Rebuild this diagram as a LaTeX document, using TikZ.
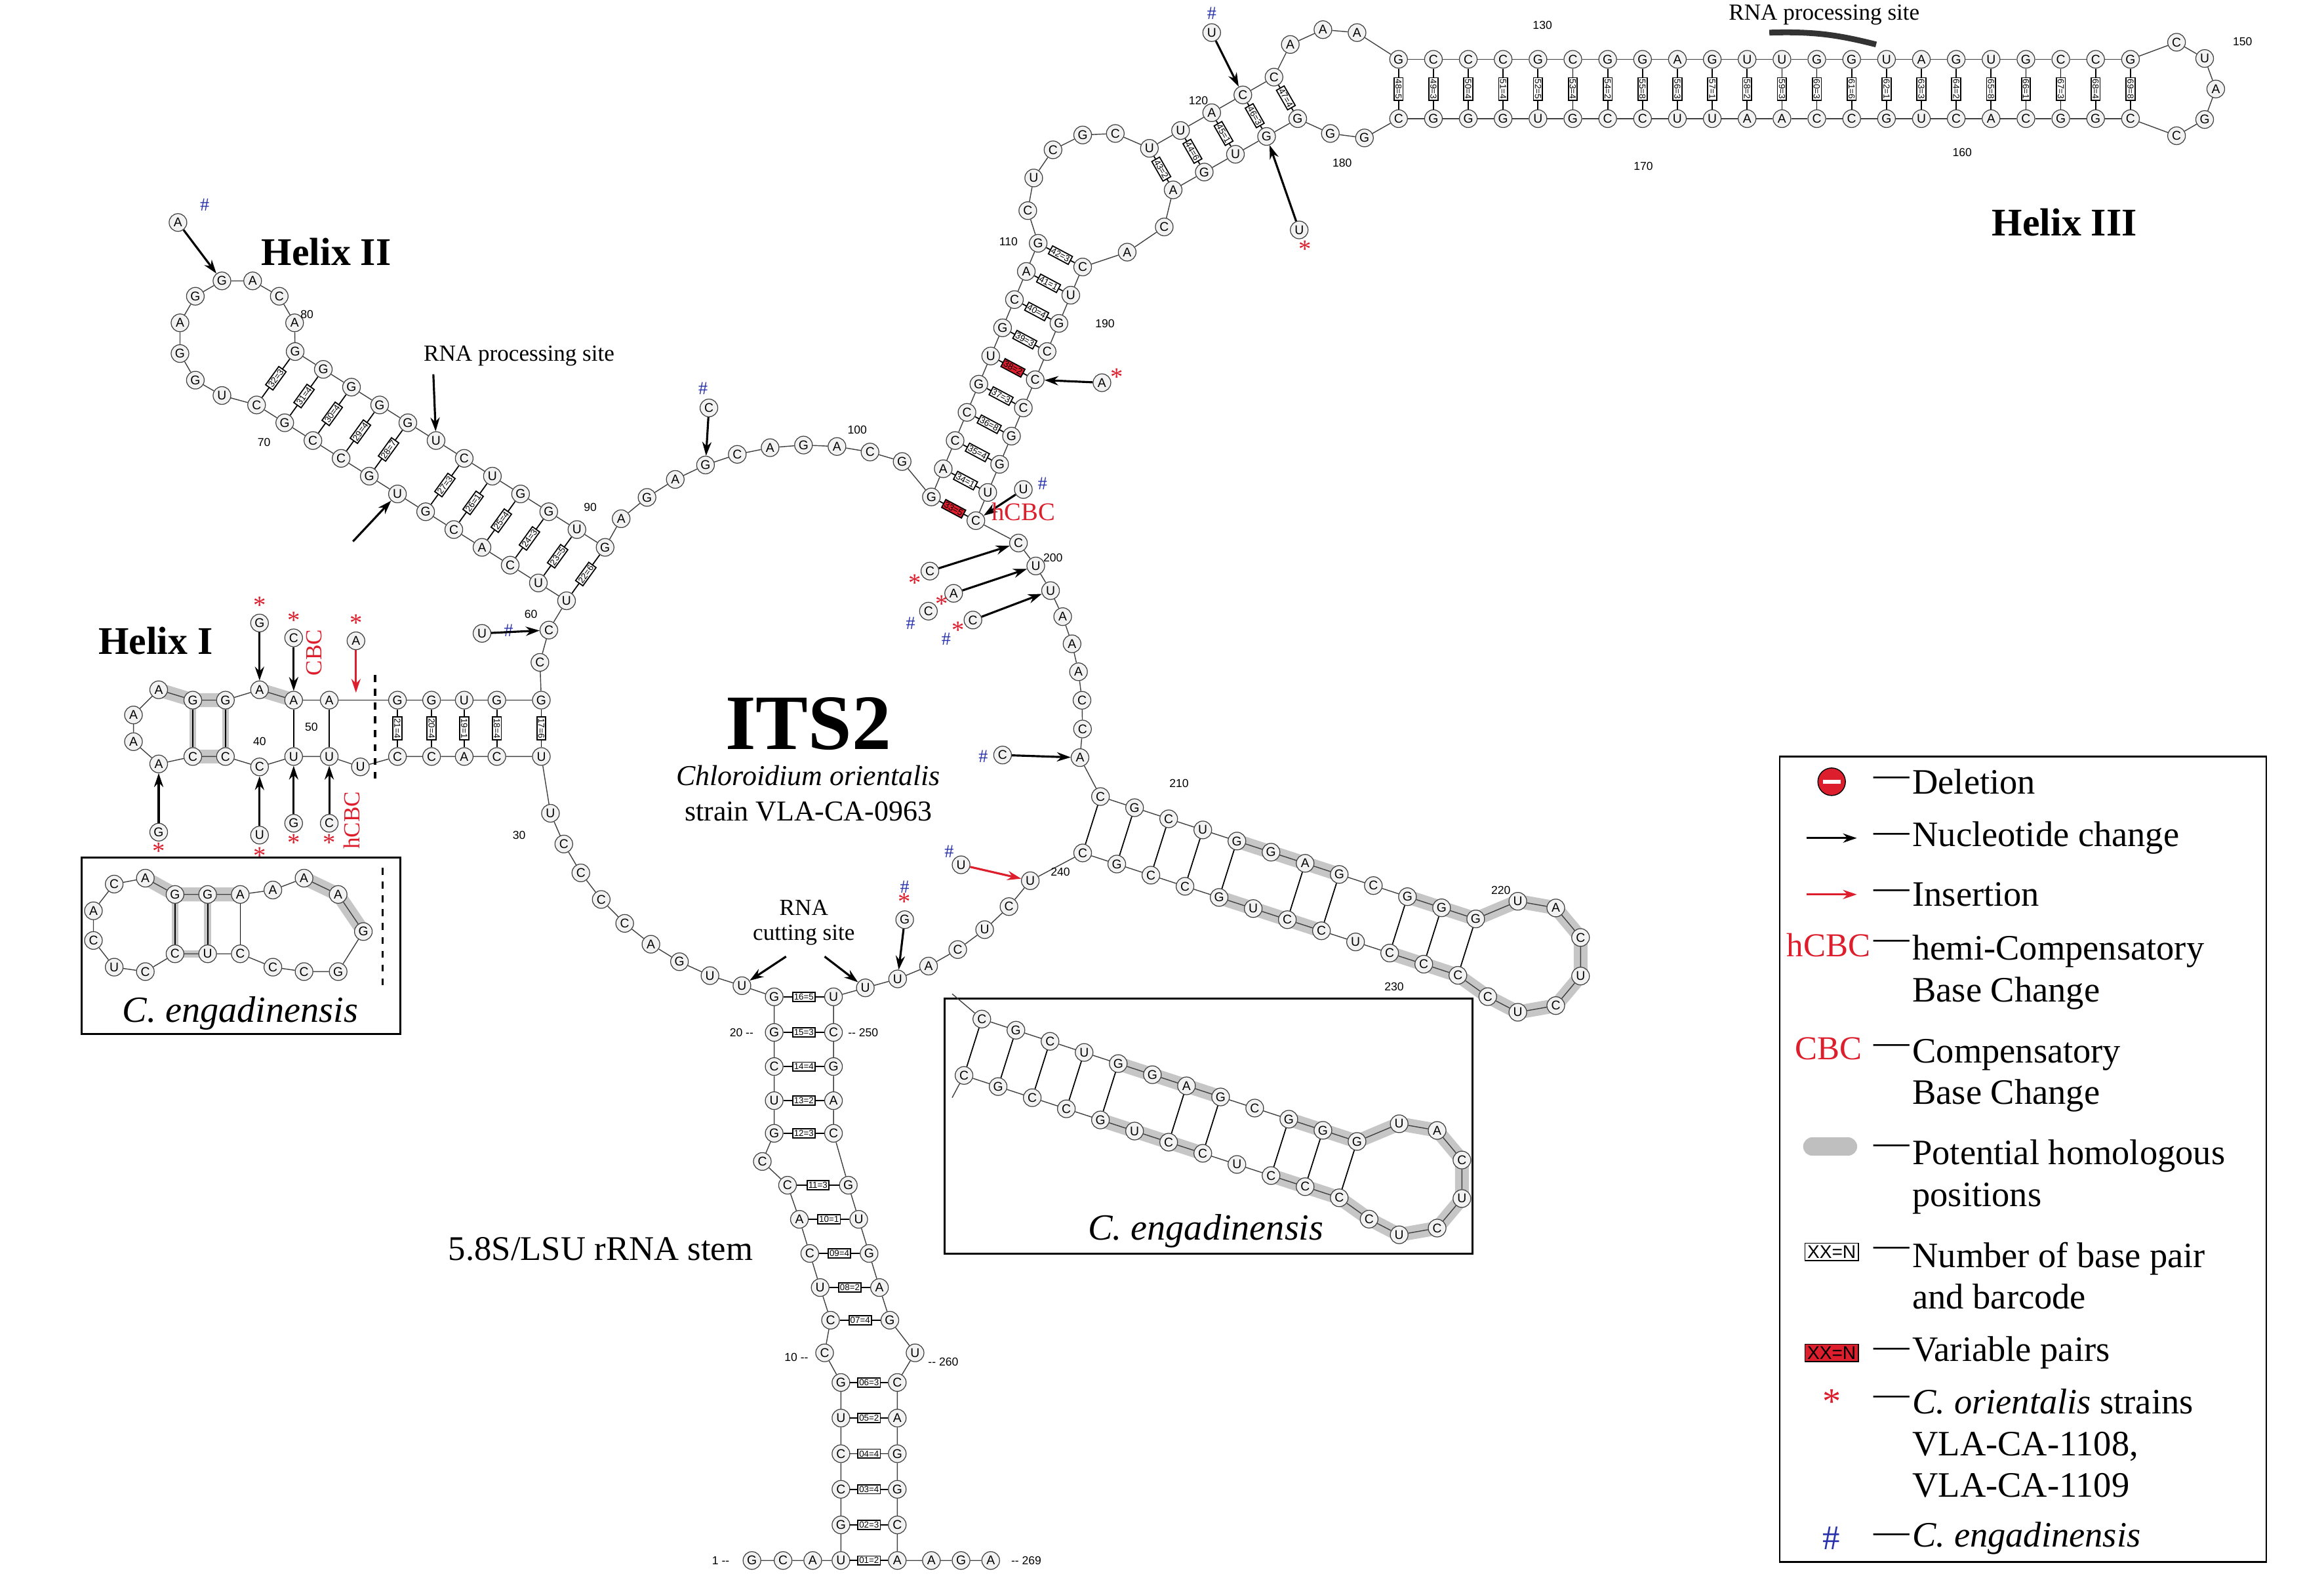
\documentclass[tikz,border=0pt]{standalone}
\usepackage{fontspec}
\setmainfont{Liberation Serif}
\newfontfamily\ntf{Liberation Sans}
\usetikzlibrary{calc,backgrounds,arrows.meta}
\definecolor{myred}{RGB}{220,30,45}
\definecolor{myblue}{RGB}{40,50,170}
\newcommand\helixB[1]{%
 \foreach \k/\a/\b in {0/C/C,1/G/G,2/C/C,3/U/C,4/G/G,5/G/U,6/A/C,7/G/C,8/C/U,9/G/C,10/G/C,11/G/C}{%
   \node[nt] (#1u\k) at ({742+23*\k},{537+7.5*\k}) {\a};
   \node[nt] (#1l\k) at ({730+23*\k},{575+7.5*\k}) {\b};}
 \foreach \k/\ang/\c in {1/-100/U,2/-60/A,3/-20/C,4/20/U,5/60/C,6/100/U,7/135/C}{%
   \node[nt] (#1o\k) at ([shift={(\ang:38)}]1030,645) {\c};}
 \foreach \k [evaluate=\k as \j using int(\k+1)] in {0,...,10}{%
   \draw[bbl] (#1u\k)--(#1u\j); \draw[bbl] (#1l\k)--(#1l\j);}
 \draw[bbl] (#1u11)--(#1o1)--(#1o2)--(#1o3)--(#1o4)--(#1o5)--(#1o6)--(#1o7)--(#1l11);
 \foreach \k in {0,1,2,3,4,6,7,9,10,11}{\draw[pr] (#1u\k)--(#1l\k);}
 \begin{pgfonlayer}{background}
  \draw[hi] (#1u4.center)--(#1u7.center);
  \draw[hi] (#1l4.center)--(#1l7.center);
  \draw[hi] (#1u9.center)--(#1u11.center)--(#1o1.center)--(#1o2.center)--(#1o3.center)--(#1o4.center)--(#1o5.center)--(#1o6.center)--(#1o7.center)--(#1l11.center)--(#1l9.center);
 \end{pgfonlayer}}
\begin{document}
\begin{tikzpicture}[x=0.022616cm,y=-0.022616cm,
 nt/.style={circle,draw=black!75,fill=gray!10,line width=0.35pt,minimum size=0.27cm,inner sep=0pt,font=\ntf\fontsize{5.5}{6}\selectfont},
 bbl/.style={line width=0.4pt,black!75},
 pr/.style={line width=0.5pt,black},
 bc/.style={draw,fill=white,inner sep=0.6pt,font=\ntf\fontsize{3.8}{4}\selectfont,sloped},
 bcr/.style={bc,fill=myred},
 arr/.style={-{Stealth[length=6pt,width=4pt]},line width=0.9pt},
 rarr/.style={arr,myred},
 hi/.style={line width=6pt,gray!45,line cap=round,line join=round},
 num/.style={font=\ntf\fontsize{5}{6}\selectfont},
 ast/.style={text=myred,font=\fontsize{11}{11}\selectfont,inner sep=0pt},
 hs/.style={text=myblue,font=\fontsize{8}{8}\selectfont,inner sep=0pt},
 lg/.style={anchor=west,font=\fontsize{15.5}{18}\selectfont,align=left}]
\useasboundingbox (0,0) rectangle (1567,1065);

%%% Titles
\node[font=\bfseries\fontsize{34}{34}\selectfont] (its) at (545,488) {ITS2};
\node[font=\itshape\fontsize{12.5}{14}\selectfont] (sp) at (545,523) {Chloroidium orientalis};
\node[font=\fontsize{12.5}{14}\selectfont] (st) at (545,547) {strain VLA-CA-0963};
\node[font=\bfseries\fontsize{17}{17}\selectfont] (t1) at (105,432) {Helix I};
\node[font=\bfseries\fontsize{17}{17}\selectfont] (t2) at (220,170) {Helix II};
\node[font=\bfseries\fontsize{17}{17}\selectfont] (t3) at (1392,150) {Helix III};
\node[font=\fontsize{15}{15}\selectfont] (t4) at (405,842) {5.8S/LSU rRNA stem};

%%% central loop arcs
\foreach \a/\l [count=\i] in {160/U,153/C,146/C,139/C,132/C,125/A,118/G,111/U,104/U}{\node[nt] (b\i) at ([shift={(\a:185)}]545,485) {\l};}
\foreach \a/\l [count=\i] in {78/U,71/U,64/A,57/C,50/U,43/C,36/U}{\node[nt] (c\i) at ([shift={(\a:185)}]545,485) {\l};}
\foreach \a/\l [count=\i] in {8/A,2/C,-4/C,-10/A,-16/A,-22/A,-28/U,-34/U,-40/C}{\node[nt] (d\i) at ([shift={(\a:185)}]545,485) {\l};}
\foreach \a/\l [count=\i] in {-70/G,-77/C,-84/A,-91/G,-98/A,-105/C,-112/G,-119/A,-126/G,-133/A}{\node[nt] (e\i) at ([shift={(\a:185)}]545,485) {\l};}
\node[nt] (a1) at ([shift={(-161:185)}]545,485) {C};
\node[nt] (a2) at ([shift={(-168:185)}]545,485) {C};
\draw[bbl] (b1)--(b2)--(b3)--(b4)--(b5)--(b6)--(b7)--(b8)--(b9);
\draw[bbl] (c1)--(c2)--(c3)--(c4)--(c5)--(c6)--(c7);
\draw[bbl] (d1)--(d2)--(d3)--(d4)--(d5)--(d6)--(d7)--(d8)--(d9);
\draw[bbl] (e1)--(e2)--(e3)--(e4)--(e5)--(e6)--(e7)--(e8)--(e9)--(e10);
\draw[bbl] (a1)--(a2);

%%% Helix I
\foreach \n/\p/\c in {ht1/{107,465}/A,ht2/{130,472}/G,ht3/{152,472}/G,ht4/{175,465}/A,ht5/{198,472}/A,ht6/{222,472}/A,ht7/{268,472}/G,ht8/{291,472}/G,ht9/{313,472}/U,ht10/{335,472}/G,ht11/{365,472}/G,
 hb1/{107,515}/A,hb2/{130,510}/C,hb3/{152,510}/C,hb4/{175,517}/C,hb5/{198,510}/U,hb6/{222,510}/U,hb7/{243,517}/U,hb8/{268,510}/C,hb9/{291,510}/C,hb10/{313,510}/A,hb11/{335,510}/C,hb12/{365,510}/U,
 hl1/{90,500}/A,hl2/{90,482}/A}{\node[nt] (\n) at (\p) {\c};}
\draw[bbl] (b1)--(hb12)--(hb11)--(hb10)--(hb9)--(hb8)--(hb7)--(hb6)--(hb5)--(hb4)--(hb3)--(hb2)--(hb1)--(hl1)--(hl2)--(ht1)--(ht2)--(ht3)--(ht4)--(ht5)--(ht6)--(ht7)--(ht8)--(ht9)--(ht10)--(ht11)--(a2);
\draw[pr] (ht2)--(hb2); \draw[pr] (ht3)--(hb3); \draw[pr] (ht5)--(hb5); \draw[pr] (ht6)--(hb6);
\foreach \a/\b/\t in {ht7/hb8/21=4,ht8/hb9/20=4,ht9/hb10/19=1,ht10/hb11/18=4,ht11/hb12/17=6}{\draw[pr] (\a)--node[bc]{\t}(\b);}
\begin{pgfonlayer}{background}
\draw[hi] (ht1.center)--(ht2.center)--(ht3.center);
\draw[hi] (ht4.center)--(ht5.center);
\draw[hi] (hb2.center)--(hb3.center);
\draw[gray!45,line width=3pt] (ht2.center) rectangle (hb3.center);
\end{pgfonlayer}
\draw[dashed,line width=1pt] (253,455)--(253,528);
% Helix I annotations
\node[nt] (x1) at (175,420) {G}; \node[ast] at (175,408) {*}; \draw[arr] (x1)--(ht4);
\node[nt] (x2) at (198,430) {C}; \node[ast] at (198,418) {*}; \draw[arr] (x2)--(ht5);
\node[text=myred,rotate=90,font=\fontsize{10}{10}\selectfont] at (212,440) {CBC};
\node[nt] (x3) at (240,432) {A}; \node[ast] at (240,420) {*}; \draw[rarr] (x3)--(240,467);
\node[nt] (x4) at (107,561) {G}; \node[ast] at (107,574) {*}; \draw[arr] (x4)--(hb1);
\node[nt] (x5) at (175,563) {U}; \node[ast] at (175,577) {*}; \draw[arr] (x5)--(hb4);
\node[nt] (x6) at (198,555) {G}; \node[ast] at (198,568) {*}; \draw[arr] (x6)--(hb5);
\node[nt] (x7) at (222,555) {C}; \node[ast] at (222,568) {*}; \draw[arr] (x7)--(hb6);
\node[text=myred,rotate=90,font=\fontsize{10}{10}\selectfont] at (237,553) {hCBC};
\node[num] at (175,500) {40}; \node[num] at (210,490) {50};

%%% Helix I inset
\draw[line width=0.8pt] (55,578) rectangle (270,697);
\node[font=\itshape\fontsize{16}{16}\selectfont] (ce1) at (162,683) {C. engadinensis};
\foreach \n/\p/\c in {ia1/{228,603}/A,ia2/{205,592}/A,ia3/{184,600}/A,ia4/{162,603}/A,ia5/{140,603}/G,ia6/{118,603}/G,ia7/{98,592}/A,ia8/{77,596}/C,ia9/{63,614}/A,ia10/{63,634}/C,ia11/{77,652}/U,ia12/{98,655}/C,ia13/{118,643}/C,ia14/{140,643}/U,ia15/{162,643}/C,ia16/{184,652}/C,ia17/{205,655}/C,ia18/{228,655}/G,ia19/{245,628}/G}{\node[nt] (\n) at (\p) {\c};}
\draw[bbl] (ia1)--(ia2)--(ia3)--(ia4)--(ia5)--(ia6)--(ia7)--(ia8)--(ia9)--(ia10)--(ia11)--(ia12)--(ia13)--(ia14)--(ia15)--(ia16)--(ia17)--(ia18)--(ia19)--(ia1);
\draw[pr] (ia6)--(ia13); \draw[pr] (ia5)--(ia14); \draw[pr] (ia4)--(ia15);
\begin{pgfonlayer}{background}
\draw[hi] (ia7.center)--(ia6.center)--(ia5.center)--(ia4.center);
\draw[hi] (ia2.center)--(ia1.center)--(ia19.center);
\draw[gray!45,line width=3pt] (ia6.center) rectangle (ia14.center);
\end{pgfonlayer}
\draw[dashed,line width=1pt] (258,585)--(258,665);

%%% Helix II
\foreach \k/\a/\b in {0/C/G,1/G/G,2/C/G,3/C/G,4/G/G,5/U/U,6/G/C,7/C/U,8/A/G,9/C/G,10/U/U,11/U/G}{%
 \node[nt] (h2l\k) at ({173+19*\k},{273+12*\k}) {\a};
 \node[nt] (h2u\k) at ({199+19*\k},{237+12*\k}) {\b};}
\foreach \ang/\c [count=\i] in {105/U,135/G,165/G,195/A,225/G,255/G,285/A,315/C,345/A}{\node[nt] (h2o\i) at ([shift={(\ang:40)}]160,228) {\c};}
\foreach \k [evaluate=\k as \j using int(\k+1)] in {0,...,10}{\draw[bbl] (h2l\k)--(h2l\j); \draw[bbl] (h2u\k)--(h2u\j);}
\draw[bbl] (h2l0)--(h2o1)--(h2o2)--(h2o3)--(h2o4)--(h2o5)--(h2o6)--(h2o7)--(h2o8)--(h2o9)--(h2u0);
\draw[bbl] (h2l11)--(a1); \draw[bbl] (h2u11)--(e10);
\foreach \k/\t in {0/32=3,1/31=4,2/30=4,3/29=4,4/28=7,6/27=3,7/26=1,8/25=4,9/24=3,10/23=5}{\draw[pr] (h2l\k)--node[bc]{\t}(h2u\k);}
\draw[pr] (h2l11)--node[bc]{22=6}(h2u11);
\node[nt] (x8) at (120,150) {A}; \node[hs] at (138,138) {\#}; \draw[arr] (x8)--(h2o6);
\node[font=\fontsize{10}{10}\selectfont] (rps1) at (350,240) {RNA processing site};
\draw[arr] (rps1.south west)+(12,0) -- (h2u5);
\coordinate (x9) at (238,365); \draw[arr] (x9)--(h2l5);
\node[num] at (207,212) {80}; \node[num] at (178,298) {70}; \node[num] at (398,342) {90}; \node[num] at (358,414) {60};

%%% 5.8S stem
\foreach \n/\p/\c in {qg1/{507,1052}/G,qg2/{528,1052}/C,qg3/{548,1052}/A,ql1/{567,1052}/U,ql2/{567,1028}/G,ql3/{567,1004}/C,ql4/{567,980}/C,ql5/{567,956}/U,ql6/{567,932}/G,ql7/{556,912}/C,ql8/{560,890}/C,ql9/{553,868}/U,ql10/{546,845}/C,ql11/{539,822}/A,ql12/{531,799}/C,ql13/{514,783}/C,ql14/{522,764}/G,ql15/{522,742}/U,ql16/{522,719}/C,ql17/{522,696}/G,ql18/{522,672}/G,
qr1/{605,1052}/A,qr2/{605,1028}/C,qr3/{605,1004}/G,qr4/{605,980}/G,qr5/{605,956}/A,qr6/{605,932}/C,qr7/{617,912}/U,qr8/{600,890}/G,qr9/{593,868}/A,qr10/{586,845}/G,qr11/{579,822}/U,qr12/{572,799}/G,qr13/{562,764}/C,qr14/{562,742}/A,qr15/{562,719}/G,qr16/{562,696}/C,qr17/{562,672}/U,
qt1/{628,1052}/A,qt2/{648,1052}/G,qt3/{668,1052}/A}{\node[nt] (\n) at (\p) {\c};}
\draw[bbl] (qg1)--(qg2)--(qg3)--(ql1)--(ql2)--(ql3)--(ql4)--(ql5)--(ql6)--(ql7)--(ql8)--(ql9)--(ql10)--(ql11)--(ql12)--(ql13)--(ql14)--(ql15)--(ql16)--(ql17)--(ql18)--(b9);
\draw[bbl] (qt3)--(qt2)--(qt1)--(qr1)--(qr2)--(qr3)--(qr4)--(qr5)--(qr6)--(qr7)--(qr8)--(qr9)--(qr10)--(qr11)--(qr12)--(qr13)--(qr14)--(qr15)--(qr16)--(qr17)--(c1);
\foreach \a/\b/\t in {ql1/qr1/01=2,ql2/qr2/02=3,ql3/qr3/03=4,ql4/qr4/04=4,ql5/qr5/05=2,ql6/qr6/06=3,ql8/qr8/07=4,ql9/qr9/08=2,ql10/qr10/09=4,ql11/qr11/10=1,ql12/qr12/11=3,ql14/qr13/12=3,ql15/qr14/13=2,ql16/qr15/14=4,ql17/qr16/15=3,ql18/qr17/16=5}{\draw[pr] (\a)--node[bc]{\t}(\b);}
\node[num] at (486,1052) {1 --}; \node[num] at (692,1052) {-- 269};
\node[num] at (537,915) {10 --}; \node[num] at (636,918) {-- 260};
\node[num] at (500,696) {20 --}; \node[num] at (582,696) {-- 250};
\node[font=\fontsize{10}{11}\selectfont,align=center] (rcs) at (542,622) {RNA\\cutting site};
\draw[arr] (rcs.south)+(-12,2) -- (b9); \draw[arr] (rcs.south)+(14,2) -- (c1);
\node[num] at (350,563) {30};

%%% Helix B (210)
\helixB{m}
\draw[bbl] (c7)--(ml0); \draw[bbl] (mu0)--(d1);
\node[num] at (795,528) {210}; \node[num] at (1012,600) {220}; \node[num] at (940,665) {230}; \node[num] at (715,588) {240};
\draw[line width=0.8pt] (637,673) rectangle (993,845);
\begin{scope}[shift={(-80,150)}]
\helixB{i}
\coordinate (iu) at (722,520); \coordinate (il) at (722,590);
\draw[bbl] (iu0)--(iu); \draw[bbl] (il0)--(il);
\end{scope}
\node[font=\itshape\fontsize{16}{16}\selectfont] (ce2) at (813,830) {C. engadinensis};

%%% Helix III
\foreach \k/\a/\b in {0/G/C,1/A/U,2/C/G,3/C/G,4/G/C,5/U/C,6/G/C,7/C/G,8/A/U,9/G/C}{%
 \node[nt] (s1l\k) at ({628+8*\k},{335-19*\k}) {\a};
 \node[nt] (s1r\k) at ({658+8*\k},{351-19*\k}) {\b};}
\foreach \k [evaluate=\k as \j using int(\k+1)] in {0,...,8}{\draw[bbl] (s1l\k)--(s1l\j); \draw[bbl] (s1r\k)--(s1r\j);}
\foreach \k/\t in {1/34=1,2/35=4,3/36=8,4/37=3,6/39=3,7/40=4,8/41=1,9/42=3}{\draw[pr] (s1l\k)--node[bc]{\t}(s1r\k);}
\foreach \k/\t in {0/33=5,5/38=2}{\draw[pr] (s1l\k)--node[bcr]{\t}(s1r\k);}
\draw[bbl] (s1l0)--(e1); \draw[bbl] (s1r0)--(d9);
\foreach \n/\p/\c in {i1/{693,142}/C,i2/{697,120}/U,i3/{710,101}/C,i4/{730,91}/G,i5/{752,90}/C,j1/{785,153}/C,j2/{760,170}/A,k1/{870,30}/A,k2/{892,20}/A,k3/{915,22}/A,m1/{920,93}/G,m2/{897,90}/G}{\node[nt] (\n) at (\p) {\c};}
\foreach \k/\a/\b in {0/U/A,1/U/G,2/A/U,3/C/G,4/C/G}{%
 \node[nt] (s2p\k) at ({775+21*\k},{100-12*\k}) {\a};
 \node[nt] (s2q\k) at ({791+21*\k},{128-12*\k}) {\b};}
\foreach \k/\t in {0/43=2,1/44=6,2/45=1,3/46=3,4/47=4}{\draw[pr] (s2p\k)--node[bc]{\t}(s2q\k);}
\draw[bbl] (s1l9)--(i1)--(i2)--(i3)--(i4)--(i5)--(s2p0)--(s2p1)--(s2p2)--(s2p3)--(s2p4)--(k1)--(k2)--(k3);
\draw[bbl] (m2)--(s2q4)--(s2q3)--(s2q2)--(s2q1)--(s2q0)--(j1)--(j2)--(s1r9);
\foreach \j/\a/\b in {0/G/C,1/C/G,2/C/G,3/C/G,4/G/U,5/C/G,6/G/C,7/G/C,8/A/U,9/G/U,10/U/A,11/U/A,12/G/C,13/G/C,14/U/G,15/A/U,16/G/C,17/U/A,18/G/C,19/C/G,20/C/G,21/G/C}{%
 \node[nt] (h3t\j) at ({943+23.5*\j},40) {\a};
 \node[nt] (h3b\j) at ({943+23.5*\j},80) {\b};}
\foreach \j/\t in {0/48=5,1/49=3,2/50=4,3/51=4,4/52=5,5/53=4,6/54=2,7/55=8,8/56=3,9/57=1,10/58=2,11/59=3,12/60=3,13/61=6,14/62=1,15/63=3,16/64=2,17/65=8,18/66=1,19/67=3,20/68=4,21/69=8}{\draw[pr] (h3t\j)--node[bc]{\t}(h3b\j);}
\foreach \j [evaluate=\j as \i using int(\j+1)] in {0,...,20}{\draw[bbl] (h3t\j)--(h3t\i); \draw[bbl] (h3b\j)--(h3b\i);}
\foreach \ang/\c [count=\i] in {-80/C,-40/U,0/A,40/G,80/C}{\node[nt] (lp\i) at ([shift={(\ang:32)}]1462,60) {\c};}
\draw[bbl] (k3)--(h3t0); \draw[bbl] (h3b0)--(m1)--(m2);
\draw[bbl] (h3t21)--(lp1)--(lp2)--(lp3)--(lp4)--(lp5)--(h3b21);
\draw[line width=2.5pt,black!80] (1193,22) to[bend left=8] (1265,30);
\node[font=\fontsize{10}{10}\selectfont] at (1230,10) {RNA processing site};
\node[num] at (1040,17) {130}; \node[num] at (1108,112) {170}; \node[num] at (1323,103) {160}; \node[num] at (1512,28) {150};
\node[num] at (905,110) {180}; \node[num] at (808,68) {120}; \node[num] at (680,163) {110}; \node[num] at (745,218) {190};
\node[num] at (578,290) {100}; \node[num] at (710,376) {200};
% Helix III annotations
\node[nt] (y1) at (817,22) {U}; \node[hs] at (817,9) {\#}; \draw[arr] (y1)--(s2p3);
\node[nt] (y2) at (876,155) {U}; \node[ast] at (880,168) {*}; \draw[arr] (y2)--(s2q3);
\node[nt] (y3) at (743,258) {A}; \node[ast] at (753,254) {*}; \draw[arr] (y3)--(s1r5);
\node[nt] (y4) at (690,330) {U}; \node[hs] at (703,326) {\#}; \draw[arr] (y4)--(s1r0);
\node[text=myred,font=\fontsize{11}{11}\selectfont] at (690,345) {hCBC};
\node[nt] (y5) at (627,385) {C}; \node[ast] at (617,393) {*}; \draw[arr] (y5)--(d9);
\node[nt] (y6) at (643,400) {A}; \node[nt] (y7) at (626,412) {C}; \node[ast] at (635,407) {*}; \node[hs] at (614,420) {\#};
\draw[arr] (y6)--(d8);
\node[nt] (y8) at (656,418) {C}; \node[ast] at (646,425) {*}; \node[hs] at (638,431) {\#}; \draw[arr] (y8)--(d7);
\node[nt] (y9) at (676,509) {C}; \node[hs] at (663,510) {\#}; \draw[arr] (y9)--(d1);
\node[nt] (y10) at (648,583) {U}; \node[hs] at (640,574) {\#}; \draw[rarr] (y10)--(c7);
\node[nt] (y11) at (610,620) {G}; \node[ast] at (610,608) {*}; \node[hs] at (610,598) {\#}; \draw[arr] (y11)--(c2);
\node[nt] (y12) at (478,275) {C}; \node[hs] at (474,262) {\#}; \draw[arr] (y12)--(e7);
\node[nt] (y13) at (325,427) {U}; \node[hs] at (343,425) {\#}; \draw[arr] (y13)--(a1);

%%% Legend
\draw[line width=0.7pt] (1200,510) rectangle (1528,1053);
\node[circle,fill=myred,draw=black,minimum size=0.42cm,inner sep=0] (lg1) at (1235,527) {};
\draw[white,line width=1.6pt] (1229,527)--(1241,527);
\draw[arr] (1218,565)--(1252,565);
\draw[rarr] (1218,603)--(1252,603);
\node[text=myred,font=\fontsize{14.5}{16}\selectfont] at (1233,637) {hCBC};
\node[text=myred,font=\fontsize{14.5}{16}\selectfont] at (1233,707) {CBC};
\draw[line width=8pt,gray!50,line cap=round] (1222,773)--(1246,773);
\node[draw,inner sep=1pt,font=\ntf\fontsize{8}{9}\selectfont] at (1235,844) {XX=N};
\node[draw,fill=myred,inner sep=1pt,font=\ntf\fontsize{8}{9}\selectfont] at (1235,912) {XX=N};
\node[text=myred,font=\fontsize{16}{16}\selectfont] at (1235,945) {*};
\node[text=myblue,font=\fontsize{15}{15}\selectfont] at (1235,1037) {\#};
\foreach \y in {527,565,603,637,707,775,844,912,944,1037}{\node[lg] at (1258,\y) {---};}
\node[lg] at (1284,527) {Deletion};
\node[lg] at (1284,565) {Nucleotide change};
\node[lg] at (1284,603) {Insertion};
\node[lg,anchor=north west] at (1284,625) {hemi-Compensatory\\Base Change};
\node[lg,anchor=north west] at (1284,695) {Compensatory\\Base Change};
\node[lg,anchor=north west] at (1284,763) {Potential homologous\\positions};
\node[lg,anchor=north west] at (1284,832) {Number of base pair\\and barcode};
\node[lg] at (1284,912) {Variable pairs};
\node[lg,anchor=north west] at (1284,931) {\textit{C. orientalis} strains\\VLA-CA-1108,\\VLA-CA-1109};
\node[lg] at (1284,1037) {\textit{C. engadinensis}};
\end{tikzpicture}
\end{document}
